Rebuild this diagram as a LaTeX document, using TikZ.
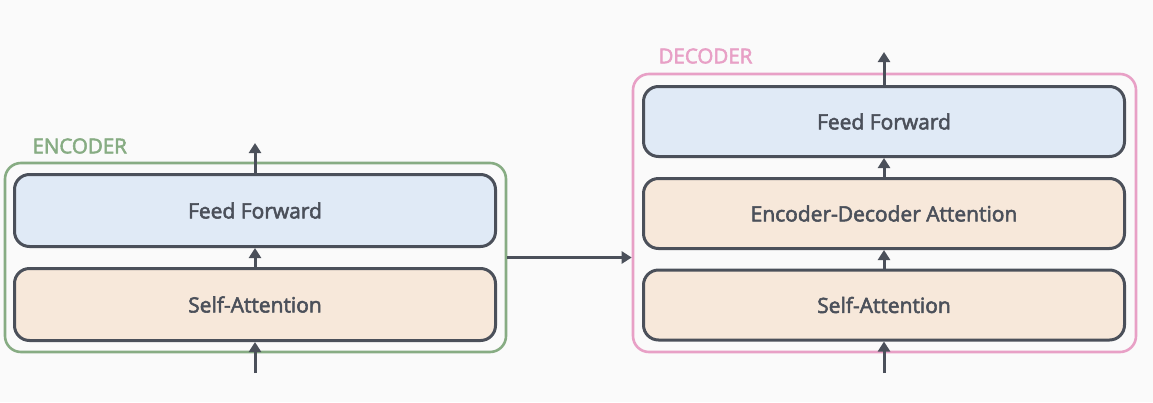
\documentclass[tikz,border=0pt]{standalone}
\usepackage{fontspec}
\setmainfont{Open Sans}
\newfontfamily\semibold{Open Sans}[FakeBold=2.6]
\usetikzlibrary{arrows.meta,positioning}
\definecolor{bgcol}{RGB}{250,250,250}
\definecolor{edgecol}{RGB}{75,80,90}
\definecolor{ffcol}{RGB}{224,234,246}
\definecolor{attcol}{RGB}{247,232,218}
\definecolor{enccol}{RGB}{135,172,131}
\definecolor{deccol}{RGB}{232,160,198}

\tikzset{
  layer/.style={draw=edgecol,line width=3pt,rounded corners=15pt,
    minimum width=481pt,font=\semibold\fontsize{21}{23}\selectfont,text=edgecol},
  stack/.style={line width=2.6pt,rounded corners=16pt},
  flow/.style={edgecol,line width=3pt,-{Triangle[width=12pt,length=10pt]}},
  tag/.style={anchor=west,font=\semibold\fontsize{20.5}{22}\selectfont}
}

\begin{document}
\begin{tikzpicture}[x=1pt,y=-1pt]
  \fill[bgcol] (0,0) rectangle (1153,402);
  \useasboundingbox (0,0) rectangle (1153,402);

  % encoder
  \node[draw=enccol,stack,minimum width=501pt,minimum height=189pt] (enc) at (255.5,257.5) {};
  \node[layer,fill=ffcol,minimum height=72pt] (effwd) at (255,210.5) {Feed Forward};
  \node[layer,fill=attcol,minimum height=72pt] (eself) at (255,304.5) {Self-Attention};
  \node[tag,text=enccol] (enclabel) at (29,146) {ENCODER};

  % decoder
  \node[draw=deccol,stack,minimum width=503pt,minimum height=278pt] (dec) at (884.5,213) {};
  \node[layer,fill=ffcol,minimum height=70pt] (dffwd) at (884,121.5) {Feed Forward};
  \node[layer,fill=attcol,minimum height=70pt] (dcross) at (884,213.5) {Encoder-Decoder Attention};
  \node[layer,fill=attcol,minimum height=70pt] (dself) at (884,305) {Self-Attention};
  \node[tag,text=deccol] (declabel) at (655,56) {DECODER};

  \coordinate (encin) at (255,373);
  \coordinate (encout) at (255,143);
  \coordinate (decin) at (884,373);
  \coordinate (decout) at (884,52);

  \draw[flow] (encin) -- (eself.south);
  \draw[flow] (eself.north) -- (effwd.south);
  \draw[flow] (effwd.north) -- (encout);

  \draw[flow] (enc.east) -- (enc.east -| dec.west);

  \draw[flow] (decin) -- (dself.south);
  \draw[flow] (dself.north) -- (dcross.south);
  \draw[flow] (dcross.north) -- (dffwd.south);
  \draw[flow] (dffwd.north) -- (decout);
\end{tikzpicture}
\end{document}
